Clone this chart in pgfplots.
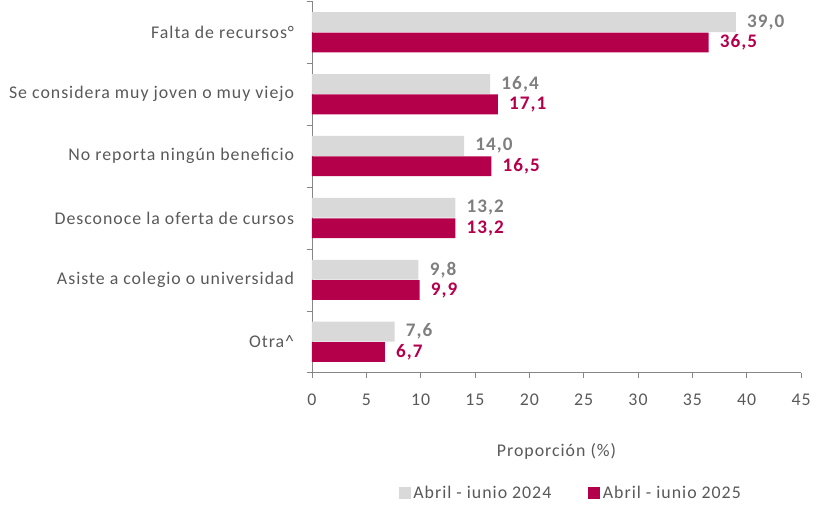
\documentclass[border=0pt]{standalone}
\usepackage{pgfplots}
\pgfplotsset{compat=1.18}
\usepackage{fontspec}
\setmainfont[LetterSpace=5.5]{Carlito}

\definecolor{gris}{HTML}{D9D9D9}
\definecolor{grislab}{HTML}{7F7F7F}
\definecolor{vino}{HTML}{B4004B}
\definecolor{txt}{HTML}{595959}
\definecolor{eje}{HTML}{868686}

\begin{document}
\begin{tikzpicture}[font=\fontsize{13.5}{15}\selectfont]
\begin{axis}[
	name=ax,
	scale only axis,
	width=370pt,
	height=281pt,
	xbar,
	bar width=15pt,
	xmin=0, xmax=45,
	xtick={0,5,...,45},
	ymin=-0.5, ymax=5.5,
	ytick={0,...,5},
	yticklabels={Otra\textasciicircum, Asiste a colegio o universidad, Desconoce la oferta de cursos, No reporta ningún beneficio, Se considera muy joven o muy viejo, Falta de recursos°},
	minor ytick={-0.5,0.5,...,5.5},
	major tick length=4pt,
	minor tick length=4pt,
	tick align=outside,
	axis x line*=bottom,
	axis y line*=left,
	axis line style={draw=eje, -},
	every tick/.style={draw=eje},
	every major y tick/.style={draw=none},
	ticklabel style={text=txt},
	yticklabel style={xshift=-6pt},
	xticklabel style={yshift=-8.5pt},
	/pgf/number format/assume math mode=true,
	xlabel={Proporción (\%)},
	xlabel style={text=txt, yshift=-21.5pt},
	point meta=x,
	nodes near coords={\pgfmathprintnumber[use comma,fixed,fixed zerofill,precision=1,assume math mode=true]{\pgfplotspointmeta}},
	nodes near coords style={font=\fontsize{14.5}{15}\selectfont\bfseries, xshift=5pt},
	legend style={at={(0.53,-0.29)}, anchor=north, draw=none, legend columns=2,
		/tikz/every even column/.style={column sep=26pt}, text=txt},
	legend image code/.code={\fill[#1] (0pt,-4.5pt) rectangle (9pt,4.5pt);},
]
\addplot[fill=gris, draw=none, bar shift=7.7pt, nodes near coords style={text=grislab}]
	coordinates {(7.6,0) (9.8,1) (13.2,2) (14.0,3) (16.4,4) (39.0,5)};
\addplot[fill=vino, draw=none, bar shift=-7.7pt, nodes near coords style={text=vino}]
	coordinates {(6.7,0) (9.9,1) (13.2,2) (16.5,3) (17.1,4) (36.5,5)};
\legend{Abril - iunio 2024, Abril - iunio 2025}
\end{axis}
\path ([yshift=1pt]ax.north west);
\path ([xshift=-236pt]ax.south west);
\end{tikzpicture}
\end{document}
